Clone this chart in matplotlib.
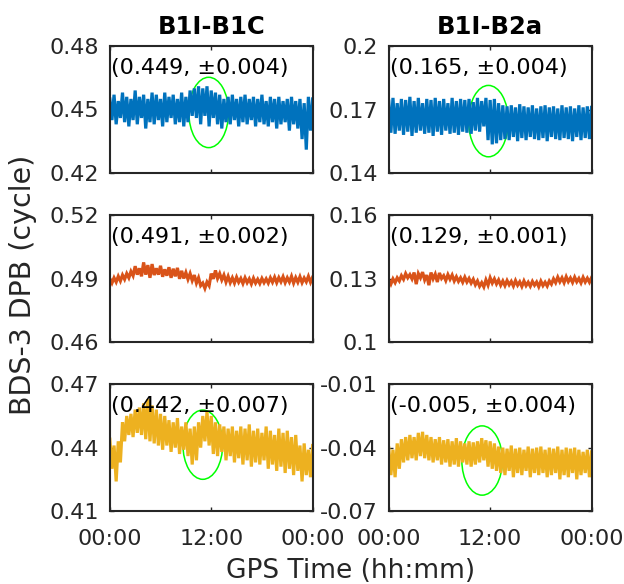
import numpy as np
import matplotlib.pyplot as plt
from matplotlib.patches import Ellipse

# time grid (hours): upper samples every 30 min, lower samples in between
t_hi = np.arange(0, 24.01, 0.5)
t_lo = np.arange(0.25, 24, 0.5)

# B1I-B1C
tl_hi = [0.455, 0.457, 0.454, 0.458, 0.456, 0.455, 0.459, 0.456, 0.457, 0.455,
         0.458, 0.457, 0.455, 0.458, 0.456, 0.457, 0.455, 0.458, 0.456, 0.459,
         0.460, 0.461, 0.460, 0.461, 0.459, 0.458, 0.457, 0.455, 0.456, 0.457,
         0.455, 0.456, 0.457, 0.455, 0.456, 0.455, 0.457, 0.454, 0.456, 0.455,
         0.456, 0.454, 0.455, 0.456, 0.454, 0.455, 0.453, 0.456, 0.455]
tl_lo = [0.445, 0.443, 0.446, 0.444, 0.442, 0.445, 0.443, 0.446, 0.441, 0.444, 0.443, 0.445,
         0.442, 0.444, 0.446, 0.443, 0.444, 0.442, 0.444, 0.447, 0.446, 0.443, 0.447, 0.442,
         0.446, 0.443, 0.441, 0.444, 0.443, 0.445, 0.442, 0.444, 0.443, 0.445, 0.442, 0.444,
         0.443, 0.442, 0.444, 0.441, 0.443, 0.444, 0.440, 0.443, 0.441, 0.436, 0.431, 0.440]

# B1I-B2a
tr_hi = [0.174, 0.1755, 0.173, 0.175, 0.1745, 0.176, 0.174, 0.1755, 0.173, 0.175,
         0.1745, 0.1755, 0.174, 0.175, 0.173, 0.1755, 0.174, 0.175, 0.1745, 0.175,
         0.1735, 0.1755, 0.174, 0.1755, 0.1745, 0.175, 0.173, 0.172, 0.1715, 0.172,
         0.171, 0.1725, 0.1715, 0.171, 0.172, 0.1705, 0.1715, 0.172, 0.171, 0.1715,
         0.1705, 0.172, 0.171, 0.1715, 0.1705, 0.172, 0.171, 0.1715, 0.171]
tr_lo = [0.159, 0.1585, 0.160, 0.158, 0.1595, 0.1575, 0.159, 0.160, 0.1585, 0.159, 0.1575, 0.1595,
         0.158, 0.160, 0.1585, 0.159, 0.158, 0.1595, 0.159, 0.1585, 0.160, 0.1595, 0.162, 0.1555,
         0.1535, 0.154, 0.1555, 0.156, 0.1555, 0.157, 0.155, 0.1565, 0.1555, 0.157, 0.156, 0.1555,
         0.1565, 0.155, 0.157, 0.156, 0.1555, 0.1565, 0.156, 0.155, 0.157, 0.1555, 0.1565, 0.156]

ml_hi = [0.4900, 0.4905, 0.4912, 0.4918, 0.4925, 0.4935, 0.4960, 0.4950, 0.4978, 0.4965,
         0.4970, 0.4950, 0.4962, 0.4945, 0.4955, 0.4948, 0.4952, 0.4938, 0.4930, 0.4925,
         0.4918, 0.4905, 0.4880, 0.4885, 0.4925, 0.4940, 0.4925, 0.4918, 0.4912, 0.4905,
         0.4908, 0.4902, 0.4905, 0.4900, 0.4903, 0.4898, 0.4902, 0.4900, 0.4905, 0.4908,
         0.4906, 0.4910, 0.4905, 0.4912, 0.4906, 0.4910, 0.4904, 0.4912, 0.4908]
ml_lo = [0.4880, 0.4885, 0.4890, 0.4898, 0.4905, 0.4915, 0.4920, 0.4912, 0.4920, 0.4905,
         0.4918, 0.4920, 0.4910, 0.4915, 0.4905, 0.4912, 0.4900, 0.4902, 0.4898, 0.4892,
         0.4880, 0.4868, 0.4855, 0.4868, 0.4900, 0.4902, 0.4895, 0.4885, 0.4882, 0.4880,
         0.4884, 0.4878, 0.4882, 0.4876, 0.4880, 0.4878, 0.4882, 0.4880, 0.4884, 0.4882,
         0.4886, 0.4882, 0.4885, 0.4880, 0.4884, 0.4882, 0.4886, 0.4884]

mr_hi = [0.1295, 0.1300, 0.1305, 0.1315, 0.1325, 0.1320, 0.1330, 0.1325, 0.1332, 0.1318,
         0.1330, 0.1322, 0.1328, 0.1315, 0.1320, 0.1318, 0.1310, 0.1305, 0.1308, 0.1302,
         0.1298, 0.1290, 0.1282, 0.1295, 0.1305, 0.1300, 0.1295, 0.1290, 0.1292, 0.1288,
         0.1292, 0.1286, 0.1290, 0.1284, 0.1288, 0.1285, 0.1289, 0.1284, 0.1290, 0.1300,
         0.1308, 0.1305, 0.1310, 0.1304, 0.1308, 0.1302, 0.1307, 0.1303, 0.1306]
mr_lo = [0.1275, 0.1282, 0.1290, 0.1298, 0.1305, 0.1300, 0.1275, 0.1305, 0.1295, 0.1270,
         0.1300, 0.1285, 0.1302, 0.1292, 0.1298, 0.1290, 0.1288, 0.1284, 0.1285, 0.1280,
         0.1272, 0.1265, 0.1262, 0.1270, 0.1280, 0.1276, 0.1270, 0.1268, 0.1272, 0.1266,
         0.1270, 0.1264, 0.1268, 0.1265, 0.1270, 0.1263, 0.1268, 0.1266, 0.1275, 0.1282,
         0.1286, 0.1282, 0.1287, 0.1283, 0.1286, 0.1281, 0.1285, 0.1284]

bl_hi = [0.444, 0.441, 0.443, 0.452, 0.455, 0.456, 0.458, 0.459, 0.461, 0.463,
         0.460, 0.458, 0.456, 0.455, 0.453, 0.452, 0.454, 0.450, 0.452, 0.449,
         0.450, 0.452, 0.455, 0.457, 0.455, 0.452, 0.451, 0.450, 0.449, 0.450,
         0.448, 0.450, 0.449, 0.451, 0.448, 0.449, 0.447, 0.450, 0.448, 0.446,
         0.449, 0.447, 0.448, 0.445, 0.446, 0.441, 0.442, 0.439, 0.441]
bl_lo = [0.430, 0.424, 0.433, 0.443, 0.446, 0.445, 0.447, 0.446, 0.444, 0.443, 0.442, 0.441,
         0.439, 0.441, 0.438, 0.440, 0.437, 0.439, 0.436, 0.432, 0.434, 0.440, 0.443, 0.441,
         0.437, 0.436, 0.438, 0.434, 0.436, 0.433, 0.435, 0.432, 0.434, 0.431, 0.433, 0.432,
         0.434, 0.430, 0.432, 0.429, 0.431, 0.428, 0.430, 0.427, 0.429, 0.424, 0.427, 0.426]

br_hi = [-0.040, -0.041, -0.038, -0.036, -0.035, -0.034, -0.035, -0.033, -0.0325, -0.034,
         -0.035, -0.036, -0.035, -0.0365, -0.036, -0.037, -0.0355, -0.037, -0.038, -0.037,
         -0.0375, -0.037, -0.0355, -0.0365, -0.037, -0.038, -0.0395, -0.040, -0.0405, -0.039,
         -0.0405, -0.040, -0.041, -0.0395, -0.0405, -0.040, -0.0395, -0.041, -0.040, -0.0405,
         -0.0395, -0.041, -0.040, -0.0405, -0.040, -0.041, -0.042, -0.041, -0.042]
br_lo = [-0.053, -0.054, -0.050, -0.047, -0.046, -0.045, -0.046, -0.044, -0.045, -0.046, -0.047, -0.046,
         -0.048, -0.047, -0.049, -0.048, -0.049, -0.047, -0.048, -0.049, -0.048, -0.047, -0.046, -0.049,
         -0.050, -0.051, -0.052, -0.053, -0.051, -0.054, -0.052, -0.053, -0.051, -0.054, -0.052, -0.053,
         -0.052, -0.054, -0.053, -0.052, -0.055, -0.053, -0.054, -0.052, -0.055, -0.053, -0.052, -0.054]

titles = ['B1I-B1C', 'B1I-B2a']
stats = ['(0.449, ±0.004)', '(0.165, ±0.004)',
         '(0.491, ±0.002)', '(0.129, ±0.001)',
         '(0.442, ±0.007)', '(-0.005, ±0.004)']
yticks = [[0.42, 0.45, 0.48], [0.14, 0.17, 0.2],
          [0.46, 0.49, 0.52], [0.1, 0.13, 0.16],
          [0.41, 0.44, 0.47], [-0.07, -0.04, -0.01]]
xticks = [0, 12, 24]
xticklabels = ['00:00', '12:00', '00:00']

# highlighted regions: (center hour, center value, width h, height)
circles = {0: (11.7, 0.4486, 4.7, 0.0333),
           1: (11.8, 0.1645, 4.7, 0.0338),
           4: (11.0, 0.4414, 4.7, 0.0328),
           5: (11.05, -0.0461, 4.8, 0.0328)}

series = [(tl_hi, tl_lo), (tr_hi, tr_lo), (ml_hi, ml_lo),
          (mr_hi, mr_lo), (bl_hi, bl_lo), (br_hi, br_lo)]
colors = ['#0072BD', '#0072BD', '#D95319', '#D95319', '#EDB120', '#EDB120']

plt.rcParams['font.family'] = 'DejaVu Sans'
dark = '#262626'

fig = plt.figure(figsize=(6.24, 5.84), dpi=100)
lefts = [0.176, 0.623]
bottoms = [0.704, 0.414, 0.125]

for k, (hi, lo) in enumerate(series):
    r, c = divmod(k, 2)
    ax = fig.add_axes([lefts[c], bottoms[r], 0.325, 0.217])
    # interleave upper and lower samples so the trace zigzags like noisy data
    tt = np.empty(len(hi) + len(lo))
    yy = np.empty(len(hi) + len(lo))
    tt[0::2], tt[1::2] = t_hi, t_lo
    yy[0::2], yy[1::2] = hi, lo
    ax.plot(tt, yy, color=colors[k], lw=2.3, solid_joinstyle='miter')

    ax.set_xlim(0, 24)
    ax.set_ylim(yticks[k][0], yticks[k][-1])
    ax.set_xticks(xticks)
    ax.set_yticks(yticks[k])
    ax.set_yticklabels(['%g' % v for v in yticks[k]])
    if r == 2:
        ax.set_xticklabels(xticklabels)
    else:
        ax.set_xticklabels([])
    ax.tick_params(direction='in', top=True, right=True, length=3, width=1,
                   labelsize=16, colors=dark, labelcolor=dark)
    ax.tick_params(axis='x', pad=13)
    ax.tick_params(axis='y', pad=8)
    for s in ax.spines.values():
        s.set_linewidth(1.5)
        s.set_color(dark)

    ax.text(0.008, 0.83, stats[k], transform=ax.transAxes, fontsize=16,
            ha='left', va='center', color='black')

    if k in circles:
        cx, cy, w, h = circles[k]
        ax.add_patch(Ellipse((cx, cy), w, h, fill=False, ec='#00FF00', lw=1.1))

    if r == 0:
        ax.set_title(titles[c], fontsize=17.5, fontweight='bold', pad=9)

fig.text(351 / 624, 0.023, 'GPS Time (hh:mm)', ha='center', va='center',
         fontsize=19, color=dark)
fig.text(0.037, 0.512, 'BDS-3 DPB (cycle)', ha='center', va='center',
         rotation=90, fontsize=20.5, color=dark)

fig.savefig('out.png', dpi=100)
